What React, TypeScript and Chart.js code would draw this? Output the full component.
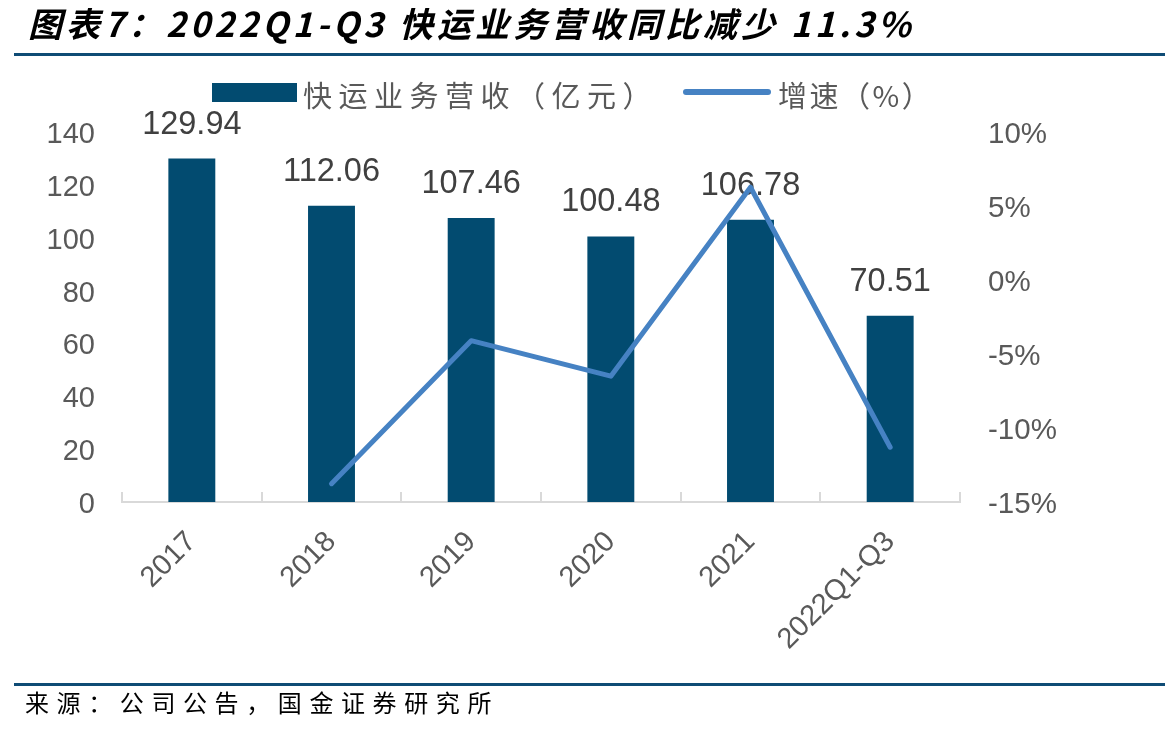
import { useEffect, useRef } from "react";
import { Chart, registerables } from "chart.js";

Chart.register(...registerables);

// Freight revenue (100m CNY) and its year-on-year growth (%)
const categories = ["2017", "2018", "2019", "2020", "2021", "2022Q1-Q3"];
const revenue = [129.94, 112.06, 107.46, 100.48, 106.78, 70.51];
const growth: (number | null)[] = [null, -13.76, -4.1, -6.5, 6.27, -11.3];

const TITLE = "图表7：2022Q1-Q3 快运业务营收同比减少 11.3%";
const SOURCE = "来源：公司公告，国金证券研究所";
const REVENUE_LABEL = "快运业务营收（亿元）";
const GROWTH_LABEL = "增速（%）";

const BAR_COLOR = "#024b70";
const LINE_COLOR = "#4682c3";
const RULE_COLOR = "#0f4c75";
const AXIS_TEXT = "#595959";
const NUM_FONT = '"Liberation Sans", Arial, sans-serif';
const CJK_FONT = '"Noto Sans CJK SC", "Noto Sans", sans-serif';

// Value labels above each bar, drawn before the growth line so the line sits on top
const barValueLabels = {
  id: "barValueLabels",
  afterDatasetDraw(chart: any, args: any) {
    if (args.index !== 0) return;
    const ctx = chart.ctx;
    ctx.save();
    ctx.font = `32.5px ${NUM_FONT}`;
    ctx.fillStyle = "#404040";
    ctx.textAlign = "center";
    ctx.textBaseline = "middle";
    args.meta.data.forEach((el: any, i: number) => {
      ctx.fillText(revenue[i].toFixed(2), el.x, el.y - 34);
    });
    ctx.restore();
  },
};

// Short inward tick marks on the category axis, between categories
const categoryTicks = {
  id: "categoryTicks",
  afterDraw(chart: any) {
    const x = chart.scales.x;
    const bottom = chart.chartArea.bottom;
    const xs: number[] = [x.left];
    for (let i = 1; i < categories.length; i++) {
      xs.push((x.getPixelForValue(i - 1) + x.getPixelForValue(i)) / 2);
    }
    xs.push(x.right);
    const ctx = chart.ctx;
    ctx.save();
    ctx.strokeStyle = "#d9d9d9";
    ctx.lineWidth = 2;
    ctx.beginPath();
    xs.forEach((px) => {
      ctx.moveTo(Math.round(px), bottom + 1);
      ctx.lineTo(Math.round(px), bottom - 10);
    });
    ctx.stroke();
    ctx.restore();
  },
};

export default function App() {
  const canvasRef = useRef<HTMLCanvasElement | null>(null);

  useEffect(() => {
    if (!canvasRef.current) return;
    const chart = new Chart(canvasRef.current, {
      type: "bar",
      data: {
        labels: categories,
        datasets: [
          {
            type: "bar",
            label: REVENUE_LABEL,
            data: revenue,
            backgroundColor: BAR_COLOR,
            yAxisID: "y",
            order: 1,
            categoryPercentage: 1,
            barPercentage: 0.336,
          },
          {
            type: "line",
            label: GROWTH_LABEL,
            data: growth,
            borderColor: LINE_COLOR,
            borderWidth: 5,
            pointRadius: 0,
            borderCapStyle: "round",
            borderJoinStyle: "round",
            yAxisID: "y1",
            order: 0,
          },
        ],
      },
      options: {
        responsive: false,
        animation: false,
        devicePixelRatio: 1,
        layout: { padding: { top: 132, left: 0, right: 0, bottom: 0 } },
        plugins: {
          legend: { display: false },
          title: { display: false },
          tooltip: { enabled: false },
        },
        scales: {
          x: {
            grid: { display: false, drawTicks: false },
            border: { display: true, color: "#d9d9d9", width: 2 },
            ticks: {
              color: AXIS_TEXT,
              font: { family: NUM_FONT, size: 29 },
              minRotation: 45,
              maxRotation: 45,
              padding: 23,
              autoSkip: false,
            },
            afterFit(scale: any) {
              scale.height = 231;
            },
          },
          y: {
            position: "left",
            min: 0,
            max: 140,
            grid: { display: false, drawTicks: false },
            border: { display: false },
            ticks: {
              stepSize: 20,
              color: AXIS_TEXT,
              font: { family: NUM_FONT, size: 29 },
              padding: 27,
              labelOffset: 3,
            },
            afterFit(scale: any) {
              scale.width = 122;
            },
          },
          y1: {
            position: "right",
            min: -15,
            max: 10,
            grid: { display: false, drawTicks: false },
            border: { display: false },
            ticks: {
              stepSize: 5,
              color: AXIS_TEXT,
              font: { family: NUM_FONT, size: 29.5 },
              padding: 28,
              labelOffset: 3,
              callback: (v: any) => `${v}%`,
            },
            afterFit(scale: any) {
              scale.width = 205;
            },
          },
        },
      },
      plugins: [barValueLabels, categoryTicks],
    });
    return () => chart.destroy();
  }, []);

  return (
    <div
      style={{
        position: "absolute",
        left: 0,
        top: 0,
        width: 1165,
        height: 733,
        overflow: "hidden",
        background: "#ffffff",
      }}
    >
      <canvas
        ref={canvasRef}
        width={1165}
        height={733}
        style={{ position: "absolute", left: 0, top: 0, width: 1165, height: 733 }}
      />
      <div
        style={{
          position: "absolute",
          left: 28,
          top: 3,
          fontFamily: CJK_FONT,
          fontSize: 34,
          fontWeight: 700,
          fontStyle: "italic",
          letterSpacing: 4,
          lineHeight: "40px",
          color: "#000",
          whiteSpace: "nowrap",
        }}
      >
        {TITLE}
      </div>
      <div style={{ position: "absolute", left: 14, top: 53, width: 1151, height: 3, background: RULE_COLOR }} />
      <div style={{ position: "absolute", left: 212, top: 83, width: 85, height: 19, background: BAR_COLOR }} />
      <div
        style={{
          position: "absolute",
          left: 303,
          top: 74,
          fontFamily: CJK_FONT,
          fontSize: 29,
          letterSpacing: 6.5,
          lineHeight: "40px",
          color: AXIS_TEXT,
          whiteSpace: "nowrap",
        }}
      >
        {REVENUE_LABEL}
      </div>
      <div
        style={{ position: "absolute", left: 683, top: 89, width: 88, height: 6, borderRadius: 3, background: LINE_COLOR }}
      />
      <div
        style={{
          position: "absolute",
          left: 778,
          top: 74,
          fontFamily: CJK_FONT,
          fontSize: 29,
          letterSpacing: 2.5,
          lineHeight: "40px",
          color: AXIS_TEXT,
          whiteSpace: "nowrap",
        }}
      >
        {GROWTH_LABEL}
      </div>
      <div style={{ position: "absolute", left: 14, top: 683, width: 1151, height: 3, background: RULE_COLOR }} />
      <div
        style={{
          position: "absolute",
          left: 25,
          top: 686,
          fontFamily: CJK_FONT,
          fontSize: 24,
          letterSpacing: 7.6,
          lineHeight: "32px",
          color: "#000",
          whiteSpace: "nowrap",
        }}
      >
        {SOURCE}
      </div>
    </div>
  );
}
